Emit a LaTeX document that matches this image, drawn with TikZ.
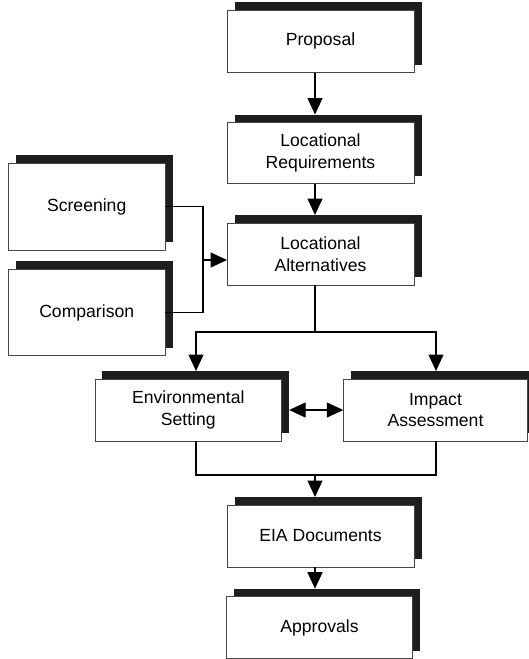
\documentclass[tikz,border=0pt]{standalone}
\usepackage{fontspec}
\setmainfont{Liberation Sans}
\usetikzlibrary{arrows.meta,shadows,calc}
\definecolor{shadowc}{RGB}{30,30,30}
\definecolor{edgec}{RGB}{70,70,70}
\tikzset{
  stage/.style={
    draw=edgec, line width=0.8pt, fill=white, inner sep=0pt, outer sep=0pt,
    align=center, font=\fontsize{17.6}{21.7}\selectfont,
    drop shadow={shadow xshift=7.5pt, shadow yshift=8pt, fill=shadowc, opacity=1}
  },
  link/.style={line width=1.2pt, black},
  flow/.style={link, -{Triangle[width=15pt,length=16.5pt]}},
  twoway/.style={link, {Triangle[width=15pt,length=16.5pt]}-{Triangle[width=15pt,length=16.5pt]}}
}
\begin{document}
\begin{tikzpicture}[x=1pt,y=-1pt]
\useasboundingbox (0,0) rectangle (529,659);

% main column of stages
\node[stage, minimum width=187pt, minimum height=62.7pt] (prop) at (320.5,41.4) {Proposal};
\node[stage, minimum width=187pt, minimum height=61pt] (req) at (320.5,153) {Locational\\Requirements};
\node[stage, minimum width=187pt, minimum height=62pt] (alt) at (320.5,254) {Locational\\Alternatives};

% side inputs
\node[stage, minimum width=156.7pt, minimum height=87pt] (scr) at (86.7,206.5) {Screening};
\node[stage, minimum width=156.7pt, minimum height=86.4pt] (cmp) at (86.7,312.5) {Comparison};

% parallel studies
\node[stage, minimum width=186.7pt, minimum height=62pt] (env) at (188.3,410) {Environmental\\Setting};
\node[stage, minimum width=184.4pt, minimum height=62pt] (imp) at (435.5,410) {Impact\\Assessment};

% outputs
\node[stage, minimum width=187pt, minimum height=62pt] (eia) at (320.5,536) {EIA Documents};
\node[stage, minimum width=185.6pt, minimum height=62pt] (apr) at (319.5,627.7) {Approvals};

% routing points
\coordinate (spine) at (315,0);
\coordinate (merge) at (203,260);
\coordinate (split) at (315,332);
\coordinate (join) at (315,475);
\coordinate (envtap) at (196,0);
\coordinate (imptap) at (436,0);

% connectors
\draw[flow] (prop.south -| spine) -- ($(req.north -| spine)+(0,-8)$);
\draw[flow] (req.south -| spine) -- ($(alt.north -| spine)+(0,-8)$);

\draw[link] (scr.east) -| (merge);
\draw[link] (cmp.east) -| (merge);
\draw[flow] (merge) -- (alt.west |- merge);

\draw[link] (alt.south -| spine) -- (split);
\draw[flow] (split) -| ($(env.north -| envtap)+(0,-8)$);
\draw[flow] (split) -| ($(imp.north -| imptap)+(0,-8)$);

\draw[twoway] ($(env.east)+(7.5,0)$) -- (imp.west);

\draw[link] (env.south -| envtap) -- (envtap |- join) -- (imptap |- join) -- (imp.south -| imptap);
\draw[flow] (join) -- ($(eia.north -| spine)+(0,-8)$);
\draw[flow] (eia.south -| spine) -- ($(apr.north -| spine)+(0,-8)$);
\end{tikzpicture}
\end{document}
